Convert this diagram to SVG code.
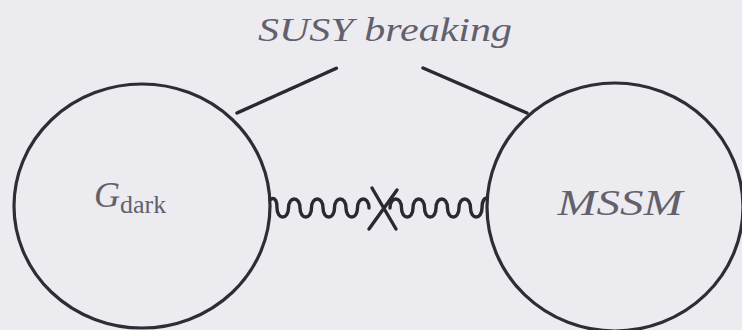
<svg xmlns="http://www.w3.org/2000/svg" width="742" height="330" viewBox="0 0 742 330">
<style>
.node{fill:none;stroke:#2f2c35;stroke-width:3.2}
.lbl{font-family:'Liberation Serif','Times New Roman','DejaVu Serif',serif;fill:#62606c}
.it{font-style:italic}
.conn{fill:none;stroke:#2a2830;stroke-width:3.4;stroke-linecap:round}
</style>
<rect width="742" height="330" fill="#ecebf0"/>
<text class="lbl it" x="385" y="41" font-size="34" text-anchor="middle" textLength="254" lengthAdjust="spacingAndGlyphs">SUSY breaking</text>
<g id="gdark">
<ellipse class="node" cx="142" cy="206" rx="128" ry="122"/>
<text class="lbl" x="94" y="207" font-size="36"><tspan class="it">G</tspan><tspan font-size="26" dy="6">dark</tspan></text>
</g>
<g id="mssm">
<ellipse class="node" cx="615" cy="207" rx="128" ry="124"/>
<text class="lbl it" x="620" y="215" font-size="36" text-anchor="middle" textLength="125" lengthAdjust="spacingAndGlyphs">MSSM</text>
</g>
<g id="connectors">
<line class="conn" x1="237" y1="113" x2="337" y2="68" stroke="#3a3840" stroke-dasharray="1.5 1" stroke-linecap="butt"/>
<line class="conn" x1="423" y1="68" x2="527" y2="113"/>
<path class="conn" d="M270,200 c3,-3 7,-2 7,8 c0,12 11.5,12 11.5,0 c0,-12 11.5,-12 11.5,0 c0,12 11.5,12 11.5,0 c0,-12 11.5,-12 11.5,0 c0,12 11.5,12 11.5,0 c0,-12 11.5,-12 11.5,0 c0,12 11.5,12 11.5,0 c0,-12 11.5,-12 11.5,0"/>
<path class="conn" d="M390,208 c0,-12 11.5,-12 11.5,0 c0,12 11.5,12 11.5,0 c0,-12 11.5,-12 11.5,0 c0,12 11.5,12 11.5,0 c0,-12 11.5,-12 11.5,0 c0,12 11.5,12 11.5,0 c0,-12 11.5,-12 11.5,0 c0,12 11.5,12 11.5,0 c0,-8 3,-10 5,-10"/>
<line class="conn" x1="372" y1="188" x2="396" y2="229" stroke-width="6.5" stroke="#222027"/>
<line class="conn" x1="397" y1="190" x2="369" y2="229" stroke-width="6.5" stroke="#222027"/>
</g>
</svg>
